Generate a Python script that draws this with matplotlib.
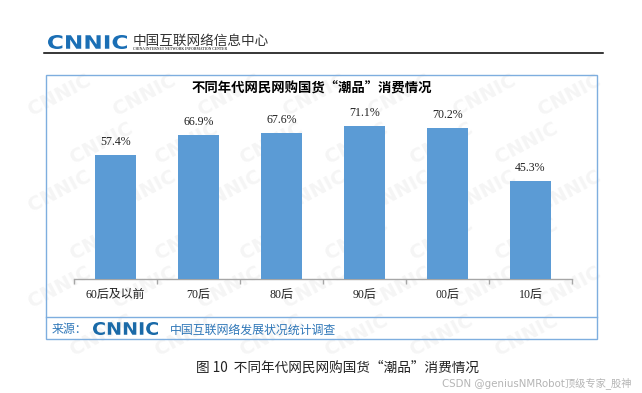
import matplotlib
matplotlib.use("Agg")
import matplotlib.pyplot as plt
from matplotlib.patches import Rectangle, PathPatch
from matplotlib.textpath import TextPath
from matplotlib.font_manager import FontProperties
from matplotlib.transforms import Affine2D, IdentityTransform
from matplotlib.lines import Line2D

plt.rcParams['font.family'] = ['Liberation Serif', 'Noto Sans CJK SC', 'DejaVu Sans']

# data
generations = ["60后及以前", "70后", "80后", "90后", "00后", "10后"]
share = [57.4, 66.9, 67.6, 71.1, 70.2, 45.3]
value_labels = ["57.4%", "66.9%", "67.6%", "71.1%", "70.2%", "45.3%"]

chart_title = "不同年代网民网购国货“潮品”消费情况"
caption = "图 10  不同年代网民网购国货“潮品”消费情况"
source_label = "来源："
source_name = "中国互联网络发展状况统计调查"
org_cn = "中国互联网络信息中心"
org_en = "CHINA INTERNET NETWORK INFORMATION CENTER"
credit = "CSDN @geniusNMRobot顶级专家_股神"

W, H = 642, 393
BAR = "#5B9BD5"
BOX = "#7EAEDF"
LOGO = "#1B6FB5"
SRC = "#2F77B8"

fig = plt.figure(figsize=(W / 100, H / 100), dpi=100)
fig.patch.set_facecolor("white")


def fx(x):
    return x / W


def fy(y):
    # y measured from the top in pixels
    return 1 - y / H


def logo(x0, y_top, w, h, color):
    """Stretch the CNNIC word to fill a pixel box (x0, y_top, w, h)."""
    tp = TextPath((0, 0), "CNNIC", size=10,
                  prop=FontProperties(family="DejaVu Sans", weight="bold"))
    ext = tp.get_extents()
    sx = w / ext.width
    sy = h / ext.height
    tr = Affine2D().translate(-ext.x0, -ext.y0).scale(sx, sy).translate(x0, H - y_top - h)
    fig.patches.append(PathPatch(tr.transform_path(tp), facecolor=color,
                                 edgecolor="none", transform=IdentityTransform()))


# faint CNNIC watermarks, kept behind the chart
for row in range(6):
    for col in range(7):
        xw = 60 + col * 85 + (row % 2) * 42
        yw = 95 + row * 48
        if xw > 590:
            continue
        fig.text(fx(xw), fy(yw), "CNNIC", fontsize=14, fontweight="bold",
                 family="DejaVu Sans", color="#f5f5f5", rotation=28,
                 ha="center", va="center", zorder=-5)

# header
logo(48, 35, 79, 14, LOGO)
fig.text(fx(133), fy(41), org_cn, fontsize=9.8, family=["Noto Sans CJK SC"],
         color="#333333", ha="left", va="center")
fig.text(fx(133), fy(49.5), org_en, fontsize=2.6, fontweight="bold",
         color="#444444", ha="left", va="center")
fig.lines.append(Line2D([fx(44), fx(603)], [fy(53), fy(53)], color="black",
                        lw=1.1, transform=fig.transFigure))

# frame around the chart and the source row
fig.patches.append(Rectangle((fx(46), fy(339)), fx(597) - fx(46), fy(75) - fy(339),
                             transform=fig.transFigure, fill=False,
                             edgecolor=BOX, lw=1.0))
fig.lines.append(Line2D([fx(46), fx(597)], [fy(317), fy(317)], color=BOX,
                        lw=1.0, transform=fig.transFigure))

fig.text(fx(312), fy(88), chart_title, fontsize=9.6, fontweight="bold",
         family=["Noto Sans CJK SC"], color="black", ha="center", va="center")

# bars
ax = fig.add_axes([fx(74), 114 / H, 498 / W, 80 * 2.155 / H])
ax.patch.set_alpha(0)
x = range(len(generations))
ax.bar(x, share, width=0.5, color=BAR, zorder=3)
for xi, v, lab in zip(x, share, value_labels):
    ax.annotate(lab, (xi, v), xytext=(0, 5), textcoords="offset points",
                ha="center", va="bottom", fontsize=8.6, color="#222222")

ax.set_xlim(-0.5, len(generations) - 0.5)
ax.set_ylim(0, 80)
ax.set_yticks([])
for side in ["top", "right", "left"]:
    ax.spines[side].set_visible(False)
ax.spines["bottom"].set_color("#A6A6A6")
ax.spines["bottom"].set_linewidth(1.0)
ax.set_xticks(list(x))
ax.set_xticklabels(generations, fontsize=8.6, color="#222222")
ax.tick_params(axis="x", which="major", length=0, pad=7)
ax.set_xticks([i - 0.5 for i in range(len(generations) + 1)], minor=True)
ax.tick_params(axis="x", which="minor", length=3.5, color="#A6A6A6", width=1.0)

# source row
fig.text(fx(52), fy(330), source_label, fontsize=8.6, color=SRC,
         family=["Noto Sans CJK SC"], ha="left", va="center")
logo(93, 322, 65, 13, "#1A6AA8")
fig.text(fx(170), fy(330), source_name, fontsize=8.6, color=SRC,
         family=["Noto Sans CJK SC"], ha="left", va="center")

# caption and credit
fig.text(fx(337), fy(368), caption, fontsize=9.8, color="#222222",
         family=["Noto Sans CJK SC"], ha="center", va="center")
fig.text(fx(632), fy(383), credit, fontsize=7.4, color="#b5b5b5",
         family=["DejaVu Sans", "Noto Sans CJK SC"], ha="right", va="center")

fig.savefig("out.png", dpi=100)
